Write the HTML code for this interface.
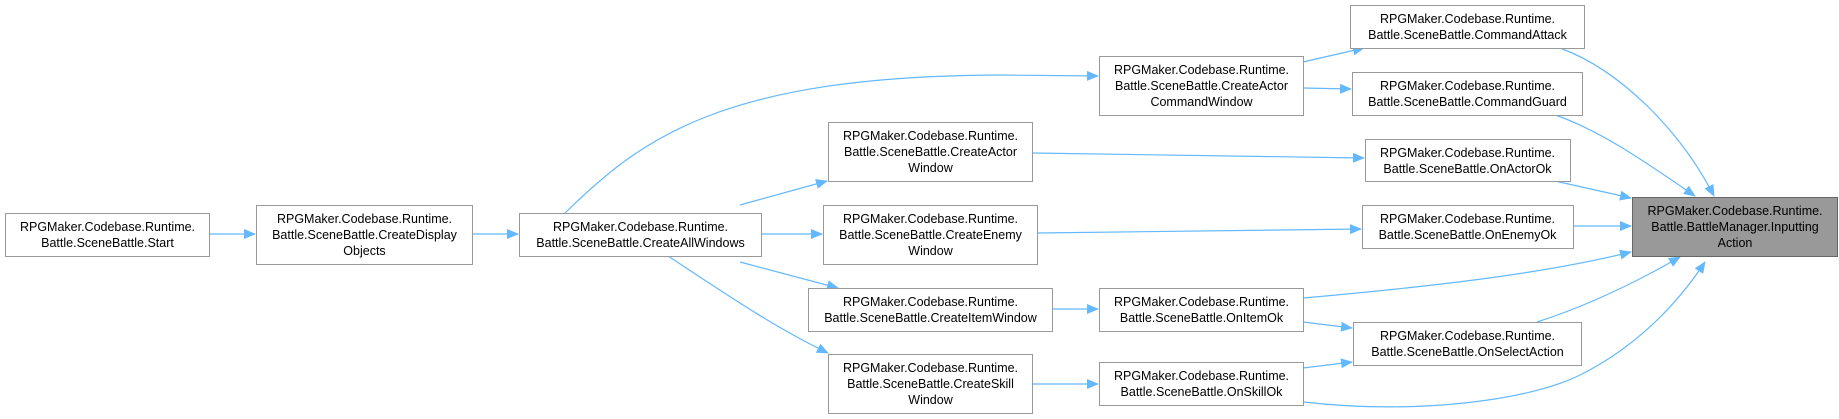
<!DOCTYPE html>
<html><head><meta charset="utf-8"><style>
html,body{margin:0;padding:0;background:#fff;}
svg{display:block;}
text{font-family:"Liberation Sans",Arial,sans-serif;font-size:12.5px;fill:#000;}
.b{fill:#fff;stroke:#999;stroke-width:1;}
.e{fill:none;stroke:#63b8ff;stroke-width:1.2;marker-end:url(#a);}
</style></head><body>
<svg width="1839" height="419" viewBox="0 0 1839 419" xmlns="http://www.w3.org/2000/svg">
<defs><marker id="a" markerWidth="12" markerHeight="10" refX="11" refY="5" orient="auto" markerUnits="userSpaceOnUse"><path d="M0,0 L12,5 L0,10 z" fill="#63b8ff"/></marker></defs>
<!-- edges -->
<path class="e" d="M209,234 L255,234"/>
<path class="e" d="M472,234 L518,234"/>
<path class="e" d="M565,213 C640,140 720,76 1000,75 L1098,76"/>
<path class="e" d="M740,205 L827,181"/>
<path class="e" d="M761,234 L822,234"/>
<path class="e" d="M740,262 L838,288"/>
<path class="e" d="M668,256 C720,290 770,325 828,353"/>
<path class="e" d="M1052,309 L1098,309"/>
<path class="e" d="M1032,384 L1098,384"/>
<path class="e" d="M1303,62 L1364,48"/>
<path class="e" d="M1303,88 L1351,89"/>
<path class="e" d="M1032,153 L1364,158"/>
<path class="e" d="M1037,233 L1361,229"/>
<path class="e" d="M1303,298 C1450,285 1550,272 1631,252"/>
<path class="e" d="M1303,322 L1352,328"/>
<path class="e" d="M1303,368 L1352,362"/>
<path class="e" d="M1303,402 C1420,415 1530,400 1580,375 C1640,345 1680,300 1705,262"/>
<path class="e" d="M1560,48 C1620,70 1680,130 1714,196"/>
<path class="e" d="M1555,115 C1600,130 1650,165 1695,196"/>
<path class="e" d="M1555,181 L1631,198"/>
<path class="e" d="M1573,226 L1631,226"/>
<path class="e" d="M1537,322 C1590,305 1640,280 1680,257"/>
<!-- nodes -->
<rect class="b" x="5.5" y="213.5" width="204" height="43"/>
<text x="107.5" y="231" text-anchor="middle">RPGMaker.Codebase.Runtime.</text>
<text x="107.5" y="247" text-anchor="middle">Battle.SceneBattle.Start</text>

<rect class="b" x="256.5" y="205.5" width="216" height="59"/>
<text x="364.5" y="223" text-anchor="middle">RPGMaker.Codebase.Runtime.</text>
<text x="364.5" y="239" text-anchor="middle">Battle.SceneBattle.CreateDisplay</text>
<text x="364.5" y="255" text-anchor="middle">Objects</text>

<rect class="b" x="519.5" y="213.5" width="242" height="43"/>
<text x="640.5" y="231" text-anchor="middle">RPGMaker.Codebase.Runtime.</text>
<text x="640.5" y="247" text-anchor="middle">Battle.SceneBattle.CreateAllWindows</text>

<rect class="b" x="828.5" y="122.5" width="204" height="59"/>
<text x="930.5" y="140" text-anchor="middle">RPGMaker.Codebase.Runtime.</text>
<text x="930.5" y="156" text-anchor="middle">Battle.SceneBattle.CreateActor</text>
<text x="930.5" y="172" text-anchor="middle">Window</text>

<rect class="b" x="823.5" y="205.5" width="214" height="59"/>
<text x="930.5" y="223" text-anchor="middle">RPGMaker.Codebase.Runtime.</text>
<text x="930.5" y="239" text-anchor="middle">Battle.SceneBattle.CreateEnemy</text>
<text x="930.5" y="255" text-anchor="middle">Window</text>

<rect class="b" x="808.5" y="288.5" width="244" height="43"/>
<text x="930.5" y="306" text-anchor="middle">RPGMaker.Codebase.Runtime.</text>
<text x="930.5" y="322" text-anchor="middle">Battle.SceneBattle.CreateItemWindow</text>

<rect class="b" x="828.5" y="354.5" width="204" height="59"/>
<text x="930.5" y="372" text-anchor="middle">RPGMaker.Codebase.Runtime.</text>
<text x="930.5" y="388" text-anchor="middle">Battle.SceneBattle.CreateSkill</text>
<text x="930.5" y="404" text-anchor="middle">Window</text>

<rect class="b" x="1099.5" y="56.5" width="204" height="59"/>
<text x="1201.5" y="74" text-anchor="middle">RPGMaker.Codebase.Runtime.</text>
<text x="1201.5" y="90" text-anchor="middle">Battle.SceneBattle.CreateActor</text>
<text x="1201.5" y="106" text-anchor="middle">CommandWindow</text>

<rect class="b" x="1099.5" y="288.5" width="204" height="43"/>
<text x="1201.5" y="306" text-anchor="middle">RPGMaker.Codebase.Runtime.</text>
<text x="1201.5" y="322" text-anchor="middle">Battle.SceneBattle.OnItemOk</text>

<rect class="b" x="1099.5" y="362.5" width="204" height="43"/>
<text x="1201.5" y="380" text-anchor="middle">RPGMaker.Codebase.Runtime.</text>
<text x="1201.5" y="396" text-anchor="middle">Battle.SceneBattle.OnSkillOk</text>

<rect class="b" x="1350.5" y="5.5" width="234" height="43"/>
<text x="1467.5" y="23" text-anchor="middle">RPGMaker.Codebase.Runtime.</text>
<text x="1467.5" y="39" text-anchor="middle">Battle.SceneBattle.CommandAttack</text>

<rect class="b" x="1352.5" y="72.5" width="230" height="43"/>
<text x="1467.5" y="90" text-anchor="middle">RPGMaker.Codebase.Runtime.</text>
<text x="1467.5" y="106" text-anchor="middle">Battle.SceneBattle.CommandGuard</text>

<rect class="b" x="1365.5" y="139.5" width="205" height="42"/>
<text x="1467.5" y="157" text-anchor="middle">RPGMaker.Codebase.Runtime.</text>
<text x="1467.5" y="173" text-anchor="middle">Battle.SceneBattle.OnActorOk</text>

<rect class="b" x="1362.5" y="205.5" width="211" height="43"/>
<text x="1467.5" y="223" text-anchor="middle">RPGMaker.Codebase.Runtime.</text>
<text x="1467.5" y="239" text-anchor="middle">Battle.SceneBattle.OnEnemyOk</text>

<rect class="b" x="1353.5" y="322.5" width="228" height="43"/>
<text x="1467.5" y="340" text-anchor="middle">RPGMaker.Codebase.Runtime.</text>
<text x="1467.5" y="356" text-anchor="middle">Battle.SceneBattle.OnSelectAction</text>

<rect x="1632.5" y="197.5" width="205" height="59" fill="#999" stroke="#666"/>
<text x="1735" y="215" text-anchor="middle">RPGMaker.Codebase.Runtime.</text>
<text x="1735" y="231" text-anchor="middle">Battle.BattleManager.Inputting</text>
<text x="1735" y="247" text-anchor="middle">Action</text>
</svg>
</body></html>
